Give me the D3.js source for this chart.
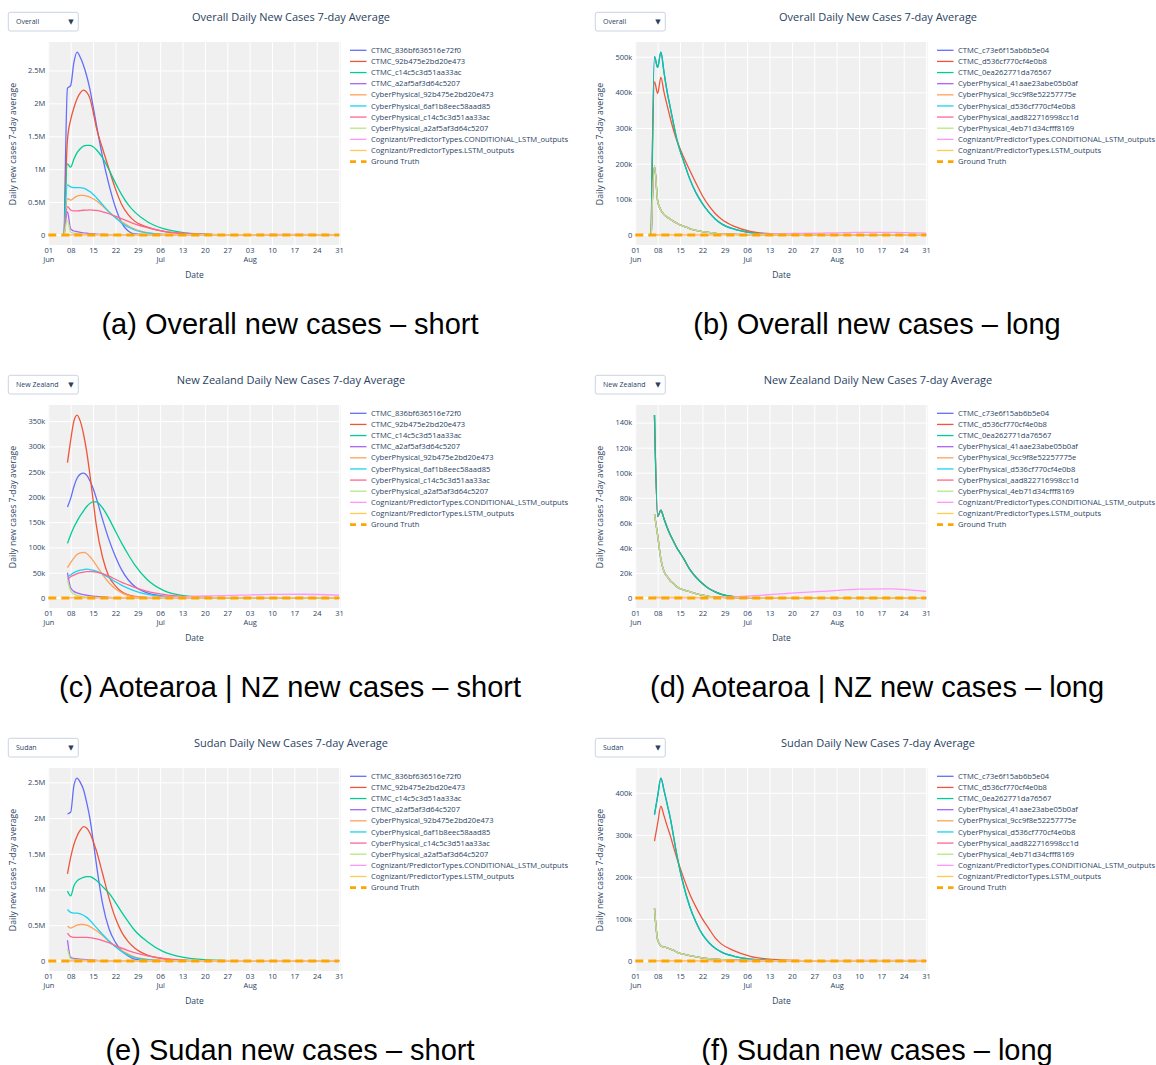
<!DOCTYPE html>
<html>
<head>
<meta charset="utf-8">
<script src="https://cdn.jsdelivr.net/npm/d3@7"></script>
<style>
  body { margin: 0; background: #ffffff; }
  svg { display: block; }
</style>
</head>
<body>
<svg id="fig" width="1156" height="1065"></svg>
<script>
// ---------- data (daily new cases, 7-day average, in thousands) ----------
const dates = ["2021-06-06","2021-06-07","2021-06-08","2021-06-09","2021-06-10","2021-06-11","2021-06-12",
  "2021-06-13","2021-06-14","2021-06-15","2021-06-16","2021-06-18","2021-06-20","2021-06-22","2021-06-24",
  "2021-06-26","2021-06-28","2021-07-02","2021-07-07","2021-07-14","2021-07-21","2021-07-31","2021-08-10",
  "2021-08-20","2021-08-31"];

const truthDates = ["2021-06-01", "2021-08-31"];
const truthValues = [0, 0];

const legendShort = ["CTMC_836bf636516e72f0", "CTMC_92b475e2bd20e473", "CTMC_c14c5c3d51aa33ac",
  "CTMC_a2af5af3d64c5207", "CyberPhysical_92b475e2bd20e473", "CyberPhysical_6af1b8eec58aad85",
  "CyberPhysical_c14c5c3d51aa33ac", "CyberPhysical_a2af5af3d64c5207",
  "Cognizant/PredictorTypes.CONDITIONAL_LSTM_outputs", "Cognizant/PredictorTypes.LSTM_outputs", "Ground Truth"];
const legendLong = ["CTMC_c73e6f15ab6b5e04", "CTMC_d536cf770cf4e0b8", "CTMC_0ea262771da76567",
  "CyberPhysical_41aae23abe05b0af", "CyberPhysical_9cc9f8e52257775e", "CyberPhysical_d536cf770cf4e0b8",
  "CyberPhysical_aad822716998cc1d", "CyberPhysical_4eb71d34cfff8169",
  "Cognizant/PredictorTypes.CONDITIONAL_LSTM_outputs", "Cognizant/PredictorTypes.LSTM_outputs", "Ground Truth"];

// Cognizant predictors
const conditionalLstm = [null, 0, 0, 0, 0, 0, 0, 0, 0, 0, 0, 0, 0, 0.1, 0.2, 0.3, 0.5, 0.9, 1.6, 2.8, 4, 5.5, 7, 7.3, 5.3];
const conditionalLstmSudan = [null, 0, 0, 0, 0, 0, 0, 0, 0, 0, 0, 0, 0, 0, 0, 0, 0, 0.1, 0.2, 0.4, 0.6, 0.9, 1.1, 1.2, 1.0];
const lstmOutputs = [null, 0.6, 0.6, 0.5, 0.5, 0.5, 0.5, 0.4, 0.4, 0.4, 0.4, 0.3, 0.3, 0.3, 0.3, 0.2, 0.2, 0.2, 0.2, 0.1, 0.1, 0.1, 0.1, 0.1, 0.1];

// Overall, short-term predictors
const overallShortCtmc836 = [0, 2230, 2270, 2620, 2780, 2700, 2580, 2420, 2220, 1960, 1690, 1180, 760, 420, 180, 60, 15, 2, 0, 0, 0, 0, 0, 0, 0];
const overallShortCtmc92b = [0, 1450, 1750, 1930, 2070, 2160, 2200, 2170, 2080, 1880, 1640, 1310, 1000, 700, 460, 310, 210, 120, 55, 18, 6, 1, 0, 0, 0];
const overallShortCtmcC14 = [0, 1080, 1030, 1150, 1250, 1310, 1350, 1360, 1360, 1340, 1300, 1170, 990, 790, 610, 460, 350, 200, 95, 32, 10, 2, 0, 0, 0];
const overallShortCtmcA2a = [0, 350, 90, 60, 50, 40, 32, 26, 21, 17, 13, 7, 3.5, 1.5, 0.6, 0.2, 0, 0, 0, 0, 0, 0, 0, 0, 0];
const overallShortCp92b = [0, 550, 530, 560, 590, 600, 600, 590, 575, 550, 520, 440, 350, 270, 200, 140, 90, 35, 10, 2, 0, 0, 0, 0, 0];
const overallShortCp6af = [0, 760, 730, 720, 720, 720, 710, 690, 660, 620, 570, 460, 350, 260, 180, 120, 75, 30, 9, 2, 0, 0, 0, 0, 0];
const overallShortCpC14 = [0, 430, 380, 365, 365, 370, 375, 378, 380, 378, 372, 352, 322, 285, 245, 205, 168, 110, 58, 22, 8, 2, 0, 0, 0];
const overallShortCpA2a = [0, 220, 40, 25, 18, 14, 11, 9, 7, 6, 5, 3, 1.5, 0.7, 0.3, 0, 0, 0, 0, 0, 0, 0, 0, 0, 0];

// Overall, long-term predictors
const overallLongCtmc = [0, 500, 470, 513, 455, 400, 355, 310, 268, 237, 210, 158, 118, 88, 64, 45, 31, 16, 6.5, 2, 0.5, 0.1, 0, 0, 0];
const overallLongCtmcD536 = [0, 430, 397, 442, 400, 362, 326, 293, 265, 242, 221, 182, 145, 110, 82, 60, 44, 24, 10, 3, 1, 0.2, 0, 0, 0];
const overallLongCp = [0, 193, 95, 70, 57, 50, 44, 38, 33, 28, 25, 18, 13, 9.5, 7, 4.5, 3, 1.6, 0.7, 0.2, 0, 0, 0, 0, 0];

// New Zealand, short-term predictors
const nzShortCtmc836 = [null, 180, 197, 220, 237, 245, 247, 243, 232, 217, 198, 155, 115, 82, 55, 36, 23, 10, 3.5, 1, 0.3, 0, 0, 0, 0];
const nzShortCtmc92b = [null, 268, 312, 350, 362, 350, 325, 290, 245, 195, 145, 80, 42, 24, 12, 6, 3, 0.8, 0.1, 0, 0, 0, 0, 0, 0];
const nzShortCtmcC14 = [null, 108, 125, 140, 152, 163, 172, 181, 187, 190, 190, 178, 157, 132, 108, 86, 66, 36, 15, 4, 1.2, 0.3, 0, 0, 0];
const nzShortCtmcA2a = [null, 50, 20, 13, 10, 8, 6.5, 5.5, 4.5, 3.7, 3, 2, 1.2, 0.6, 0.3, 0.1, 0, 0, 0, 0, 0, 0, 0, 0, 0];
const nzShortCp92b = [null, 60, 70, 79, 86, 89, 90, 88, 82, 74, 65, 46, 30, 18, 10, 5, 2.5, 0.7, 0.2, 0, 0, 0, 0, 0, 0];
const nzShortCp6af = [null, 42, 46, 50, 53, 55, 56, 57, 56, 55, 53, 47, 40, 32, 25, 19, 14, 7, 3, 1, 0.3, 0, 0, 0, 0];
const nzShortCpC14 = [null, 37, 42, 45, 48, 50, 51, 52, 52, 52, 51, 48, 43, 37, 31, 26, 21, 13, 7, 2.5, 1, 0.2, 0, 0, 0];
const nzShortCpA2a = [null, 35, 14, 8, 5, 3.5, 2.5, 2, 1.5, 1.2, 1, 0.6, 0.3, 0.1, 0, 0, 0, 0, 0, 0, 0, 0, 0, 0, 0];

// New Zealand, long-term predictors
const nzLongCtmc = [null, 146, 65, 70, 63, 56, 50, 45, 40, 36, 32, 23, 16.5, 11.5, 7.5, 4.8, 2.8, 1, 0.3, 0.1, 0, 0, 0, 0, 0];
const nzLongCp = [null, 67, 50, 31, 21, 17, 13.5, 11.5, 9, 7.5, 6.5, 5, 3.5, 2.2, 1.3, 0.7, 0.4, 0.1, 0, 0, 0, 0, 0, 0, 0];

// Sudan, short-term predictors
const sdShortCtmc836 = [null, 2060, 2080, 2450, 2560, 2500, 2400, 2220, 2000, 1700, 1370, 800, 450, 260, 140, 70, 25, 5, 0.5, 0, 0, 0, 0, 0, 0];
const sdShortCtmc92b = [null, 1220, 1450, 1630, 1750, 1830, 1880, 1860, 1790, 1680, 1550, 1220, 880, 600, 400, 270, 180, 80, 30, 8, 2, 0.5, 0, 0, 0];
const sdShortCtmcC14 = [null, 980, 910, 1050, 1120, 1150, 1170, 1180, 1180, 1160, 1130, 1040, 950, 820, 680, 550, 430, 270, 130, 45, 15, 3, 0, 0, 0];
const sdShortCtmcA2a = [null, 290, 50, 35, 30, 25, 20, 17, 14, 11.5, 9, 5, 3, 1, 0.3, 0, 0, 0, 0, 0, 0, 0, 0, 0, 0];
const sdShortCp92b = [null, 490, 460, 480, 500, 510, 510, 500, 480, 455, 425, 355, 275, 205, 145, 95, 58, 22, 6, 1, 0, 0, 0, 0, 0];
const sdShortCp6af = [null, 720, 680, 670, 670, 660, 640, 610, 570, 520, 470, 370, 280, 200, 130, 80, 45, 17, 5, 1, 0, 0, 0, 0, 0];
const sdShortCpC14 = [null, 390, 340, 330, 330, 330, 330, 330, 325, 318, 310, 285, 255, 215, 178, 145, 115, 72, 36, 12, 4, 1, 0, 0, 0];
const sdShortCpA2a = [null, 170, 30, 20, 15, 12, 10, 8, 6.5, 5.5, 4.5, 3, 1.5, 0.7, 0.3, 0, 0, 0, 0, 0, 0, 0, 0, 0, 0];

// Sudan, long-term predictors
const sdLongCtmc = [null, 348, 392, 435, 405, 372, 338, 295, 252, 215, 183, 130, 92, 63, 44, 30, 21, 11, 4.5, 1.2, 0.3, 0, 0, 0, 0];
const sdLongCtmcD536 = [null, 285, 327, 368, 345, 320, 297, 270, 245, 222, 200, 160, 128, 100, 77, 55, 40, 24, 11, 3.5, 1.2, 0.2, 0, 0, 0];
const sdLongCp = [null, 125, 50, 36, 33, 31, 28, 25, 21, 18, 16, 12.5, 10, 7.5, 5.5, 4.2, 3.2, 2, 1, 0.4, 0, 0, 0, 0, 0];

// ---------- panels ----------
const panels = [
  { region: "Overall", legend: legendShort, step: 500, caption: "(a) Overall new cases \u2013 short",
    series: [overallShortCtmc836, overallShortCtmc92b, overallShortCtmcC14, overallShortCtmcA2a,
             overallShortCp92b, overallShortCp6af, overallShortCpC14, overallShortCpA2a, conditionalLstm, lstmOutputs] },
  { region: "Overall", legend: legendLong, step: 100, caption: "(b) Overall new cases \u2013 long",
    series: [overallLongCtmc, overallLongCtmcD536, overallLongCtmc, overallLongCp, overallLongCp,
             overallLongCp, overallLongCp, overallLongCp, conditionalLstm, lstmOutputs] },
  { region: "New Zealand", legend: legendShort, step: 50, caption: "(c) Aotearoa | NZ new cases \u2013 short",
    series: [nzShortCtmc836, nzShortCtmc92b, nzShortCtmcC14, nzShortCtmcA2a, nzShortCp92b,
             nzShortCp6af, nzShortCpC14, nzShortCpA2a, conditionalLstm, lstmOutputs] },
  { region: "New Zealand", legend: legendLong, step: 20, caption: "(d) Aotearoa | NZ new cases \u2013 long",
    series: [nzLongCtmc, nzLongCtmc, nzLongCtmc, nzLongCp, nzLongCp, nzLongCp, nzLongCp, nzLongCp,
             conditionalLstm, lstmOutputs] },
  { region: "Sudan", legend: legendShort, step: 500, caption: "(e) Sudan new cases \u2013 short",
    series: [sdShortCtmc836, sdShortCtmc92b, sdShortCtmcC14, sdShortCtmcA2a, sdShortCp92b,
             sdShortCp6af, sdShortCpC14, sdShortCpA2a, conditionalLstmSudan, lstmOutputs] },
  { region: "Sudan", legend: legendLong, step: 100, caption: "(f) Sudan new cases \u2013 long",
    series: [sdLongCtmc, sdLongCtmcD536, sdLongCtmc, sdLongCp, sdLongCp, sdLongCp, sdLongCp, sdLongCp,
             conditionalLstmSudan, lstmOutputs] }
];

// ---------- styling ----------
const colorway = ["#636efa", "#EF553B", "#00cc96", "#ab63fa", "#FFA15A", "#19d3f3", "#FF6692", "#B6E880", "#FF97FF", "#FECB52"];
const truthColor = "#FFA500";
const textColor = "#2a3f5f";
const font = "'Open Sans', 'DejaVu Sans', sans-serif";
const plotBg = "#f0f0f0";

const colOffsets = [0, 587];
const rowOffsets = [0, 363, 726];
const box = { left: 48.3, right: 340.7, top: 42, bottom: 245 };

const parse = d3.utcParse("%Y-%m-%d");
const xDates = dates.map(parse);
const xStart = parse("2021-06-01");
const xEnd = d3.utcHour.offset(parse("2021-08-31"), 12);

const svg = d3.select("#fig");

panels.forEach((p, i) => {
  const ox = colOffsets[i % 2], oy = rowOffsets[Math.floor(i / 2)];
  const g = svg.append("g").attr("transform", `translate(${ox},${oy})`);

  const x = d3.scaleUtc().domain([xStart, xEnd]).range([box.left, box.right]);
  const vals = p.series.flat().filter(v => v != null);
  const lo = Math.min(0, d3.min(vals)), hi = d3.max(vals);
  const pad = (hi - lo) * 0.055;
  const y = d3.scaleLinear().domain([lo - pad, hi + pad]).range([box.bottom, box.top]);

  // plot background
  g.append("rect").attr("x", box.left).attr("y", box.top)
    .attr("width", box.right - box.left).attr("height", box.bottom - box.top).attr("fill", plotBg);

  const xTicks = d3.utcTuesday.range(xStart, parse("2021-09-01"));
  const yTicks = d3.range(0, hi + pad, p.step);

  // grid
  g.append("g").attr("transform", `translate(0,${box.bottom})`)
    .call(d3.axisBottom(x).tickValues(xTicks).tickSize(-(box.bottom - box.top)).tickFormat(""))
    .call(a => a.select(".domain").remove())
    .call(a => a.selectAll("line").attr("stroke", "#ffffff").attr("stroke-width", 1));
  g.append("g").attr("transform", `translate(${box.left},0)`)
    .call(d3.axisLeft(y).tickValues(yTicks.filter(v => v !== 0)).tickSize(-(box.right - box.left)).tickFormat(""))
    .call(a => a.select(".domain").remove())
    .call(a => a.selectAll("line").attr("stroke", "#ffffff").attr("stroke-width", 1));
  // zero line
  g.append("line").attr("x1", box.left).attr("x2", box.right)
    .attr("y1", y(0)).attr("y2", y(0)).attr("stroke", "#ffffff").attr("stroke-width", 2);

  // axes labels
  const fmtDay = d3.utcFormat("%d"), fmtMonth = d3.utcFormat("%b");
  const xAxis = g.append("g").attr("transform", `translate(0,${box.bottom})`)
    .call(d3.axisBottom(x).tickValues(xTicks).tickSize(0).tickPadding(2.5).tickFormat(fmtDay));
  xAxis.select(".domain").remove();
  xAxis.selectAll("text")
    .attr("fill", textColor).style("font-family", font).style("font-size", "7.5px")
    .each(function (d, k) {
      if (k === 0 || d.getUTCMonth() !== xTicks[k - 1].getUTCMonth()) {
        d3.select(this).append("tspan").attr("x", 0).attr("dy", "1.25em").text(fmtMonth(d));
      }
    });

  const useM = p.step >= 500;
  const fmtY = v => v === 0 ? "0" : (useM ? (v / 1000) + "M" : v + "k");
  const yAxis = g.append("g").attr("transform", `translate(${box.left},0)`)
    .call(d3.axisLeft(y).tickValues(yTicks).tickSize(0).tickPadding(3).tickFormat(fmtY));
  yAxis.select(".domain").remove();
  yAxis.selectAll("text").attr("fill", textColor).style("font-family", font).style("font-size", "7.5px");

  // series lines
  const line = d3.line()
    .defined(d => d[1] != null)
    .x(d => x(d[0])).y(d => y(d[1]))
    .curve(d3.curveMonotoneX);
  p.series.forEach((s, k) => {
    g.append("path")
      .datum(xDates.map((dt, j) => [dt, s[j]]))
      .attr("d", line).attr("fill", "none")
      .attr("stroke", colorway[k]).attr("stroke-width", 1.3)
      .attr("stroke-linejoin", "round");
  });
  // ground truth
  g.append("path")
    .datum(truthDates.map((d, j) => [parse(d), truthValues[j]]))
    .attr("d", d3.line().x(d => x(d[0])).y(d => y(d[1])))
    .attr("fill", "none").attr("stroke", truthColor).attr("stroke-width", 3)
    .attr("stroke-dasharray", "8,5");

  // legend
  const lg = g.append("g").attr("transform", "translate(350,50.3)");
  p.legend.forEach((name, k) => {
    const row = lg.append("g").attr("transform", `translate(0,${k * 11.13})`);
    const isTruth = k === p.legend.length - 1;
    row.append("line").attr("x1", 0).attr("x2", 16.5).attr("y1", 0).attr("y2", 0)
      .attr("stroke", isTruth ? truthColor : colorway[k])
      .attr("stroke-width", isTruth ? 2.6 : 1.3)
      .attr("stroke-dasharray", isTruth ? "6,5" : null);
    row.append("text").attr("x", 21).attr("y", 0).attr("dy", "0.35em")
      .attr("fill", textColor).style("font-family", font).style("font-size", "7.6px").text(name);
  });

  // title
  g.append("text").attr("x", 291).attr("y", 21).attr("text-anchor", "middle")
    .attr("fill", textColor).style("font-family", font).style("font-size", "11px")
    .text(`${p.region} Daily New Cases 7-day Average`);

  // region selector
  g.append("rect").attr("x", 8.3).attr("y", 12.3).attr("width", 70).attr("height", 18.7)
    .attr("rx", 2).attr("fill", "#ffffff").attr("stroke", "#bec8d9").attr("stroke-width", 0.8);
  g.append("text").attr("x", 16).attr("y", 21.7).attr("dy", "0.35em")
    .attr("fill", textColor).style("font-family", font).style("font-size", "7px").text(p.region);
  g.append("text").attr("x", 71).attr("y", 21.2).attr("dy", "0.35em").attr("text-anchor", "middle")
    .attr("fill", textColor).style("font-family", font).style("font-size", "7px").text("\u25BC");

  // axis titles
  g.append("text").attr("transform", `translate(13.3,${(box.top + box.bottom) / 2 + 0.5}) rotate(-90)`)
    .attr("text-anchor", "middle").attr("dy", "0.35em")
    .attr("fill", textColor).style("font-family", font).style("font-size", "8.7px")
    .text("Daily new cases 7-day average");
  g.append("text").attr("x", (box.left + box.right) / 2).attr("y", 278).attr("text-anchor", "middle")
    .attr("fill", textColor).style("font-family", font).style("font-size", "8.5px").text("Date");

  // caption
  g.append("text").attr("x", 290).attr("y", 333.5).attr("text-anchor", "middle")
    .attr("fill", "#000000").style("font-family", "'Liberation Sans', Arial, sans-serif")
    .style("font-size", "29px").text(p.caption);
});
</script>
</body>
</html>
